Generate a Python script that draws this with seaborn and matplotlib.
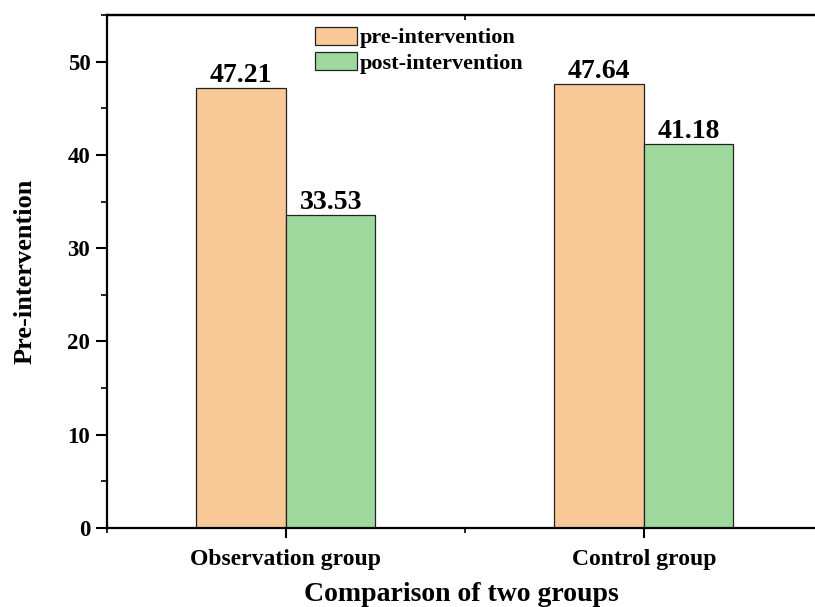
import matplotlib
matplotlib.use("Agg")
import matplotlib.pyplot as plt
import seaborn as sns
import pandas as pd
from matplotlib.ticker import MultipleLocator, FixedLocator

groups = ["Observation group", "Control group"]
phases = ["pre-intervention", "post-intervention"]
pre_values = [47.21, 47.64]
post_values = [33.53, 41.18]
colors = ["#F9C897", "#9ED89C"]

df = pd.DataFrame({
    "group": groups * 2,
    "phase": [phases[0]] * 2 + [phases[1]] * 2,
    "value": pre_values + post_values,
})

sns.set_theme(style="white")
plt.rcParams["font.family"] = ["Liberation Serif", "DejaVu Serif"]
plt.rcParams["font.weight"] = "bold"
plt.rcParams["text.color"] = "black"
plt.rcParams["axes.labelcolor"] = "black"
plt.rcParams["xtick.color"] = "black"
plt.rcParams["ytick.color"] = "black"

fig = plt.figure(figsize=(8.15, 6.07), dpi=100)
ax = fig.add_axes([107 / 815, 1 - 528 / 607, 1 - 107 / 815, (528 - 15) / 607])

sns.barplot(data=df, x="group", y="value", hue="phase", order=groups,
            hue_order=phases, palette=colors, width=0.5, ax=ax,
            edgecolor="#222222", linewidth=0.9, saturation=1)

ax.set_ylim(0, 55)
ax.set_xlim(-0.5, 1.478)

for cont in ax.containers:
    labels = [f"{v:.2f}" for v in cont.datavalues]
    ax.bar_label(cont, labels=labels, padding=0, fontsize=20,
                 fontweight="bold", color="black")

ax.set_xlabel("Comparison of two groups", fontsize=20, fontweight="bold",
              labelpad=9, color="black")
ax.set_ylabel("Pre-intervention", fontsize=19, fontweight="bold", labelpad=22,
              color="black")

ax.yaxis.set_major_locator(MultipleLocator(10))
ax.yaxis.set_minor_locator(MultipleLocator(5))
ax.xaxis.set_minor_locator(FixedLocator([-0.5, 0.5]))

for lab in ax.get_yticklabels() + ax.get_xticklabels():
    lab.set_fontweight("bold")
ax.tick_params(axis="y", which="major", direction="out", length=8, width=1.5,
               labelsize=16.5, left=True, pad=4, colors="black")
ax.tick_params(axis="y", which="minor", direction="out", length=4, width=1.2,
               left=True, colors="black")
ax.tick_params(axis="x", which="major", direction="out", length=7, width=1.5,
               labelsize=17, bottom=True, pad=8, colors="black")
ax.tick_params(axis="x", which="minor", direction="out", length=3.6, width=1.2,
               bottom=True, colors="black")

for side in ["left", "bottom", "top"]:
    ax.spines[side].set_visible(True)
    ax.spines[side].set_color("black")
    ax.spines[side].set_linewidth(1.6)
ax.spines["right"].set_visible(False)

sec = ax.secondary_xaxis("top")
sec.set_xticks([])
sec.xaxis.set_minor_locator(FixedLocator([0.5]))
sec.tick_params(axis="x", which="minor", direction="in", length=3.6, width=1.2,
                colors="black")
sec.spines["top"].set_linewidth(1.6)
sec.spines["top"].set_color("black")

leg = ax.legend(loc="upper left", bbox_to_anchor=((303 - 107) / 708, 1.0),
                frameon=False, fontsize=16, handlelength=1.9,
                handleheight=0.9, handletextpad=0.15, labelspacing=0.15,
                borderaxespad=0.12)
for t in leg.get_texts():
    t.set_fontweight("bold")
    t.set_color("black")

fig.savefig("out.png", dpi=100)
